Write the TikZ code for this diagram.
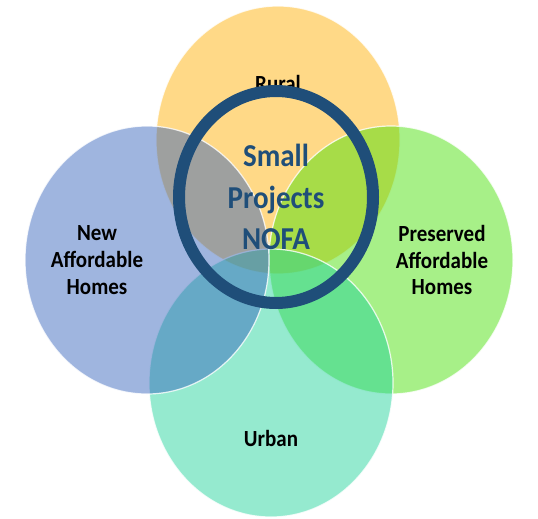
\documentclass[tikz,border=0pt]{standalone}
\usepackage{fontspec}
\setmainfont{Carlito}
\usetikzlibrary{shapes.geometric}
\definecolor{ruralgold}{RGB}{255,175,0}
\definecolor{newblue}{RGB}{51,98,188}
\definecolor{presgreen}{RGB}{68,223,3}
\definecolor{urbanteal}{RGB}{29,210,154}
\definecolor{nofablue}{RGB}{31,78,121}

\begin{document}
\begin{tikzpicture}
  [
  x=1pt, y=-1pt,
  % 円
  venn/.style={ellipse, minimum width=244pt, minimum height=268pt,
  inner sep=0, fill opacity=0.47, draw=white, draw opacity=0.8,
  line width=1.2pt},
  % 円の文字
  settext/.style={align=center, inner sep=0, yscale=1.1,
  font=\bfseries\fontsize{21}{24.5}\selectfont},
  % 中央の輪
  ring/.style={ellipse, draw=nofablue, line width=12pt, inner sep=0,
  minimum width=194pt, minimum height=212pt}
  ]
  \useasboundingbox (0,0) rectangle (538,519);
  \node [venn, fill=ruralgold] (rural) at (278,140) {};
  \node [venn, fill=presgreen] (preserved) at (391,260) {};
  \node [venn, fill=urbanteal] (urban) at (271,383) {};
  \node [venn, fill=newblue] (newhomes) at (147,260) {};
  \node [settext] (ruraltext) at (278,83) {Rural};
  \node [settext] (newtext) at (97,260) {New\\Affordable\\Homes};
  \node [settext] (prestext) at (442,260) {Preserved\\Affordable\\Homes};
  \node [settext] (urbantext) at (271,438) {Urban};
  \node [ring] (nofa) at (276,197) {};
  \node [settext, text=nofablue, font=\bfseries\fontsize{29}{37.5}\selectfont]
  (nofatext) at (nofa) {Small\\Projects\\NOFA};
\end{tikzpicture}
\end{document}
